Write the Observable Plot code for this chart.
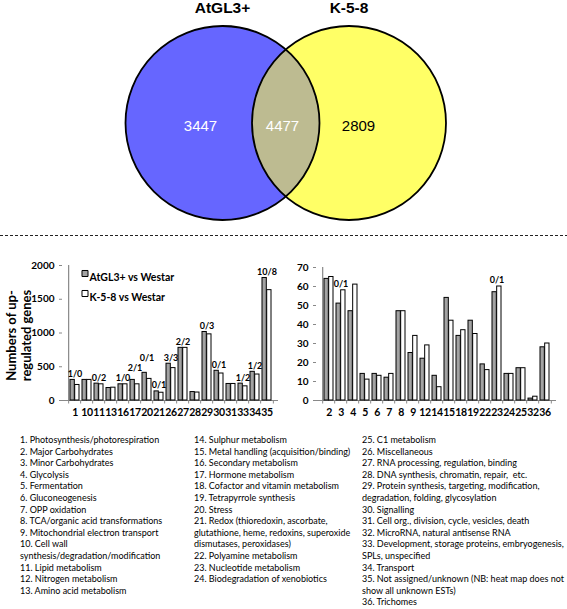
<!DOCTYPE html>
<html><head><meta charset="utf-8">
<script src="https://cdn.jsdelivr.net/npm/d3@7"></script>
<script src="https://cdn.jsdelivr.net/npm/@observablehq/plot@0.6"></script>
<style>
body{margin:0;background:#fff;}
#root{position:relative;width:567px;height:609px;overflow:hidden;background:#fff;}
.part{position:absolute;}
.col{position:absolute;top:434px;font-family:Lato,sans-serif;font-size:9px;line-height:11.6px;white-space:pre;color:#000;}
.bars g[aria-label="x-axis tick label"] text{letter-spacing:-0.4px;}
</style></head><body><div id="root"></div>
<script>
// ---------- data ----------
const vennSets = ["AtGL3+", "K-5-8"];
const vennCounts = [3447, 4477, 2809]; // only AtGL3+, both, only K-5-8
const seriesNames = ["AtGL3+ vs Westar", "K-5-8 vs Westar"];

const leftCats  = ["1","10","11","13","16","17","20","21","26","27","28","29","30","31","33","34","35"];
const leftGray  = [305,305,250,185,240,305,410,135,545,780,125,1015,440,245,250,425,1815];
const leftWhite = [230,305,240,190,240,240,320,115,480,780,118,980,400,245,210,385,1635];
const leftNotes = ["1/0","","0/2","","1/0","2/1","0/1","0/1","3/3","2/2","","0/3","0/1","","1/2","1/2","10/8"];
const leftTicks = [0,500,1000,1500,2000];

const rightCats  = ["2","3","4","5","6","7","8","9","12","14","15","18","19","22","23","24","25","32","36"];
const rightGray  = [64,51,47,14,14,12,47,25,22,13,54,34,42,19,57,14,17,1,28];
const rightWhite = [65,58,61,11,13,14,47,34,29,7,42,37,35,16,60,14,17,2,30];
const rightNotes = ["","0/1","","","","","","","","","","","","","0/1","","","",""];
const rightTicks = [0,10,20,30,40,50,60,70];

const yLabel = "Numbers of up-\nregulated genes";

const listCol1 = ["1. Photosynthesis/photorespiration","2. Major Carbohydrates","3. Minor Carbohydrates","4. Glycolysis","5. Fermentation","6. Gluconeogenesis","7. OPP oxidation","8. TCA/organic acid transformations","9. Mitochondrial electron transport","10. Cell wall","synthesis/degradation/modification","11. Lipid metabolism","12. Nitrogen metabolism","13. Amino acid metabolism"];
const listCol2 = ["14. Sulphur metabolism","15. Metal handling (acquisition/binding)","16. Secondary metabolism","17. Hormone metabolism","18. Cofactor and vitamin metabolism","19. Tetrapyrrole synthesis","20. Stress","21. Redox (thioredoxin, ascorbate,","glutathione, heme, redoxins, superoxide","dismutases, peroxidases)","22. Polyamine metabolism","23. Nucleotide metabolism","24. Biodegradation of xenobiotics"];
const listCol3 = ["25. C1 metabolism","26. Miscellaneous","27. RNA processing, regulation, binding","28. DNA synthesis, chromatin, repair,  etc.","29. Protein synthesis, targeting, modification,","degradation, folding, glycosylation","30. Signalling","31. Cell org., division, cycle, vesicles, death","32. MicroRNA, natural antisense RNA","33. Development, storage proteins, embryogenesis,","SPLs, unspecified","34. Transport","35. Not assigned/unknown (NB: heat map does not","show all unknown ESTs)","36. Trichomes"];

// ---------- styles ----------
const vennColors = ["#6666ff", "#ffff66", "#bdbb91"];
const barColors = ["#a3a3a3", "#ffffff"];
const root = document.getElementById("root");
function place(el, left, top, cls) { el.classList.add("part"); if (cls) el.classList.add(cls); el.style.left = left + "px"; el.style.top = top + "px"; root.appendChild(el); return el; }

// ---------- Venn ----------
(function () {
  const W = 567, H = 245;
  const R = 97, cy = 122.5, c1 = 222, c2 = 348.5;
  const circles = vennSets.map((name, i) => ({name, cx: i ? c2 : c1, cy, fill: vennColors[i]}));
  const d = c2 - c1, a = d / 2, h = Math.sqrt(R * R - a * a);
  const th = Math.atan2(h, a);
  const lens = [];
  d3.range(0, 61).forEach(k => { const t = Math.PI - th + (2 * th) * k / 60; lens.push({x: c2 + R * Math.cos(t), y: cy + R * Math.sin(t)}); });
  d3.range(0, 61).forEach(k => { const t = th - (2 * th) * k / 60; lens.push({x: c1 + R * Math.cos(t), y: cy + R * Math.sin(t)}); });
  const counts = [
    {text: String(vennCounts[0]), x: 200, fill: "#fff"},
    {text: String(vennCounts[1]), x: 282, fill: "#fff"},
    {text: String(vennCounts[2]), x: 358, fill: "#000"}
  ];
  const p = Plot.plot({
    width: W, height: H, margin: 0,
    x: {domain: [0, W], range: [0, W], axis: null},
    y: {domain: [0, H], range: [0, H], axis: null},
    style: {fontFamily: "'Liberation Sans', Arial, sans-serif", background: "#fff"},
    marks: [
      Plot.dot(circles, {x: "cx", y: "cy", r: R, fill: "fill", stroke: "none"}),
      Plot.line(lens, {x: "x", y: "y", fill: vennColors[2], stroke: "none", curve: "linear-closed"}),
      Plot.dot(circles, {x: "cx", y: "cy", r: R, fill: "none", stroke: "#000", strokeWidth: 1.8}),
      Plot.text(circles, {x: "cx", y: 8, text: "name", fontSize: 15.5, fontWeight: "bold", fill: "#000"}),
      Plot.text(counts, {x: "x", y: cy + 3, text: "text", fill: "fill", fontSize: 15}),
      Plot.ruleY([235], {stroke: "#222", strokeDasharray: "3,2", strokeWidth: 1})
    ]
  });
  place(p, 0, 0);
})();

// ---------- bar charts ----------
function barChart({cats, gray, white, notes, ticks, width, marginLeft, marginRight, marginTop, legend, label}) {
  const height = 180, marginBottom = 180 - (400 - 245);
  const n = cats.length;
  const pad = 0.26;
  const step = (width - marginLeft - marginRight) / n;
  const half = step * (1 - pad) / 2;
  const yMax = ticks[ticks.length - 1];
  const pxPerUnit = (height - marginTop - marginBottom) / yMax;
  const tickLen = 3.5 / pxPerUnit;
  const gData = cats.map((c, i) => ({cat: c, v: gray[i]}));
  const wData = cats.map((c, i) => ({cat: c, v: white[i]}));
  // note labels: sit above the taller bar; lift a label that would collide with its left neighbour
  const nData = [];
  cats.forEach((c, i) => {
    if (!notes[i]) return;
    let v = Math.max(gray[i], white[i]);
    const prev = nData[nData.length - 1];
    if (prev && prev.i === i - 1 && Math.abs(prev.v - v) * pxPerUnit < 10) v = prev.v + 10 / pxPerUnit;
    nData.push({i, cat: c, v, t: notes[i]});
  });
  const marks = [
    Plot.ruleY([0], {stroke: "#888", strokeWidth: 1.2}),
    Plot.ruleX(cats, {x: d => d, y1: 0, y2: -tickLen, dx: -step / 2, stroke: "#888"}),
    Plot.ruleX([cats[n - 1]], {x: d => d, y1: 0, y2: -tickLen, dx: step / 2, stroke: "#888"}),
    Plot.ruleX([cats[0]], {x: d => d, y1: 0, y2: yMax, dx: -step / 2, stroke: "#888", strokeWidth: 1.2}),
    Plot.barY(gData, {x: "cat", y: "v", fill: barColors[0], stroke: "#000", strokeWidth: 1, insetRight: half}),
    Plot.barY(wData, {x: "cat", y: "v", fill: barColors[1], stroke: "#000", strokeWidth: 1, insetLeft: half}),
    Plot.text(nData, {x: "cat", y: "v", text: "t", dy: -6, fontSize: 9, fontWeight: "bold"}),
    Plot.axisY(ticks, {tickSize: 3, tickPadding: 5, fontSize: 10, fontWeight: "bold", tickFormat: d => String(d), label: null, stroke: "#888"}),
    Plot.axisX({tickSize: 0, tickPadding: 8, fontSize: 10.5, fontWeight: "bold", label: null})
  ];
  if (legend) {
    seriesNames.forEach((s, i) => {
      marks.push(Plot.dot([s], {frameAnchor: "top-left", dx: 22.5, dy: 8 + 20 * i, symbol: "square", r: 3.4, fill: barColors[i], stroke: "#000", strokeWidth: 1}));
      marks.push(Plot.text([s], {frameAnchor: "top-left", dx: 27, dy: 8 + 20 * i, text: d => d, textAnchor: "start", fontSize: 10.5, fontWeight: "bold"}));
    });
  }
  if (label) {
    marks.push(Plot.text([label], {frameAnchor: "left", dx: -44, dy: 2.5, rotate: -90, text: d => d, textAnchor: "middle", lineAnchor: "middle", fontSize: 13, fontWeight: "bold", lineHeight: 1.15}));
  }
  return Plot.plot({
    width, height, marginLeft, marginRight, marginTop, marginBottom,
    x: {domain: cats, paddingInner: pad, paddingOuter: pad / 2},
    y: {domain: [0, yMax]},
    style: {fontFamily: "Lato, sans-serif", fontWeight: "bold", background: "transparent", color: "#000"},
    marks
  });
}

place(barChart({cats: leftCats, gray: leftGray, white: leftWhite, notes: leftNotes, ticks: leftTicks,
  width: 283, marginLeft: 62, marginRight: 5, marginTop: 20, legend: true, label: yLabel}), 0, 245, "bars");
place(barChart({cats: rightCats, gray: rightGray, white: rightWhite, notes: rightNotes, ticks: rightTicks,
  width: 284, marginLeft: 33, marginRight: 11, marginTop: 22, legend: false}), 283, 245, "bars");

// ---------- category list ----------
[[listCol1, 20], [listCol2, 194], [listCol3, 362]].forEach(([lines, x]) => {
  const div = document.createElement("div");
  div.className = "col";
  div.style.left = x + "px";
  div.textContent = lines.join("\n");
  root.appendChild(div);
});
</script></body></html>
